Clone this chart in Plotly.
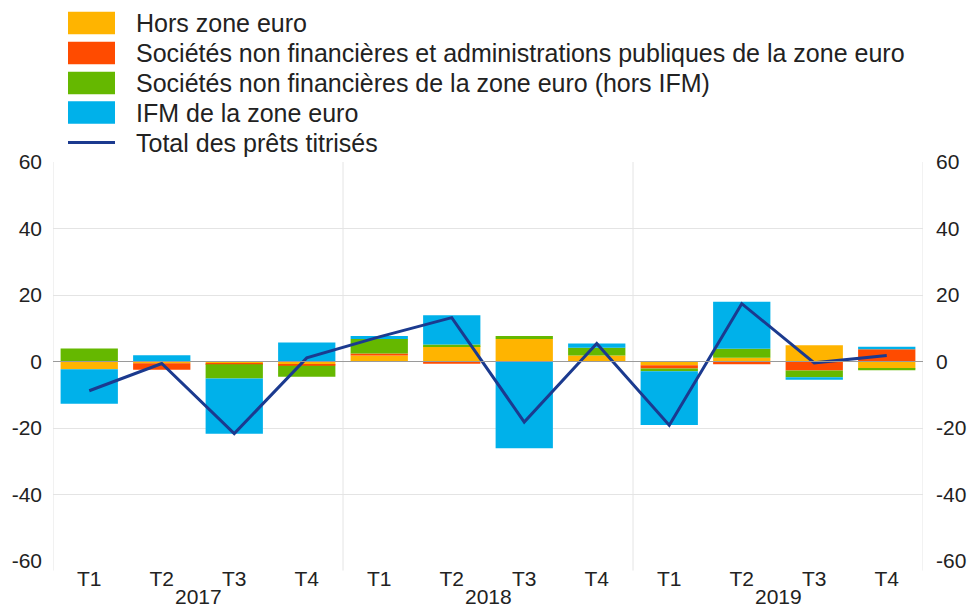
import plotly.graph_objects as go

# ---------------- data ----------------
years = ["2017", "2018", "2019"]
quarters = ["T1", "T2", "T3", "T4"]
tick_labels = [q for _ in years for q in quarters]

series_names = [
    "Hors zone euro",
    "Sociétés non financières et administrations publiques de la zone euro",
    "Sociétés non financières de la zone euro (hors IFM)",
    "IFM de la zone euro",
]
total_name = "Total des prêts titrisés"

hors_zone = [-2.3, -0.5, -0.6, -1.0, 1.8, 4.6, 6.8, 1.8, -1.1, 1.1, 4.9, -2.1]
snf_apu = [0.0, -2.0, -0.2, -0.3, 0.6, -0.7, 0.0, 0.0, -1.0, -0.8, -2.7, 3.7]
snf = [3.9, 0.0, -4.3, -3.3, 4.4, 0.5, 0.9, 2.3, -0.8, 2.7, -2.0, -0.5]
ifm = [-10.4, 1.9, -16.6, 5.7, 0.9, 8.8, -26.1, 1.3, -16.2, 14.2, -0.8, 0.7]
total = [-8.8, -0.6, -21.7, 1.1, 7.4, 13.2, -18.2, 5.4, -19.2, 17.4, -0.4, 1.8]

y_ticks = [-60, -40, -20, 0, 20, 40, 60]
y_tick_labels = ["-60", "-40", "-20", "0", "20", "40", "60"]

# ---------------- styles ----------------
bar_colors = ["#FFB400", "#FF4B00", "#65B800", "#00B1EA"]
line_color = "#1B3A8F"
grid_color = "#E4E4E4"
text_color = "#222222"
FONT = "Liberation Sans, Arial, sans-serif"

W, H = 968, 608
L, R, T, B = 53, 45, 162, 47
PW, PH = W - L - R, H - T - B

def px_x(px):
    return (px - L) / PW

def px_y(py):
    return (H - B - py) / PH

x = list(range(len(tick_labels)))

fig = go.Figure()
for name, vals, col in zip(series_names, [hors_zone, snf_apu, snf, ifm], bar_colors):
    fig.add_trace(go.Bar(x=x, y=vals, name=name, marker=dict(color=col, line=dict(width=0)),
                         showlegend=False))
fig.add_trace(go.Scatter(x=x, y=total, name=total_name, mode="lines",
                         line=dict(color=line_color, width=3), showlegend=False))
# invisible trace to activate right axis
fig.add_trace(go.Scatter(x=[x[0]], y=[0], yaxis="y2", mode="markers",
                         marker=dict(opacity=0), showlegend=False, hoverinfo="skip"))

shapes = []
# vertical separators (plot edges and year boundaries)
for xv in [-0.5, 3.5, 7.5, 11.5]:
    shapes.append(dict(type="line", xref="x", yref="paper", x0=xv, x1=xv,
                       y0=-0.024, y1=1, line=dict(color=grid_color, width=1), layer="below"))
# zero line above bars
shapes.append(dict(type="line", xref="paper", yref="y", x0=0, x1=1, y0=0, y1=0,
                   line=dict(color="#9A9A9A", width=1), layer="above"))

annotations = []
# custom legend
row_y = [23, 53, 83, 112.5]
LEG_FONT = 25
for name, col, ry in zip(series_names, bar_colors, row_y):
    shapes.append(dict(type="rect", xref="paper", yref="paper",
                       x0=px_x(68), x1=px_x(115), y0=px_y(ry + 11.3), y1=px_y(ry - 11.3),
                       fillcolor=col, line=dict(width=0)))
    annotations.append(dict(text=name, xref="paper", yref="paper", x=px_x(134), y=px_y(ry),
                            xanchor="left", yanchor="middle", showarrow=False,
                            font=dict(size=LEG_FONT, color=text_color, family=FONT)))
shapes.append(dict(type="line", xref="paper", yref="paper", x0=px_x(68), x1=px_x(115),
                   y0=px_y(142.5), y1=px_y(142.5), line=dict(color=line_color, width=3)))
annotations.append(dict(text=total_name, xref="paper", yref="paper", x=px_x(134), y=px_y(142.5),
                        xanchor="left", yanchor="middle", showarrow=False,
                        font=dict(size=LEG_FONT, color=text_color, family=FONT)))

# year labels
for i, yr in enumerate(years):
    annotations.append(dict(text=yr, xref="x", yref="paper", x=i * 4 + 1.5, y=px_y(596),
                            xanchor="center", yanchor="middle", showarrow=False,
                            font=dict(size=21, color=text_color, family=FONT)))

fig.update_layout(
    width=W, height=H,
    margin=dict(l=L, r=R, t=T, b=B, autoexpand=False),
    paper_bgcolor="white", plot_bgcolor="white",
    barmode="relative", bargap=0.21,
    font=dict(family=FONT, size=21, color=text_color),
    showlegend=False,
    xaxis=dict(range=[-0.5, 11.5], tickvals=x, ticktext=tick_labels, showgrid=False,
               zeroline=False, showline=False, ticks="", ticklabelstandoff=3,
               tickfont=dict(size=21, color=text_color)),
    yaxis=dict(range=[-60, 60], tickvals=y_ticks, ticktext=y_tick_labels, showgrid=True,
               gridcolor=grid_color, gridwidth=1, zeroline=False, showline=False, ticks="",
               ticklabelstandoff=10, tickfont=dict(size=21, color=text_color)),
    yaxis2=dict(range=[-60, 60], tickvals=y_ticks, ticktext=y_tick_labels, overlaying="y",
                side="right", showgrid=False, zeroline=False, showline=False, ticks="",
                ticklabelstandoff=12, tickfont=dict(size=21, color=text_color)),
    shapes=shapes,
    annotations=annotations,
)

fig.write_html("out.html", config={"displayModeBar": False},
               post_script="document.body.style.margin='0';document.body.style.padding='0';")
